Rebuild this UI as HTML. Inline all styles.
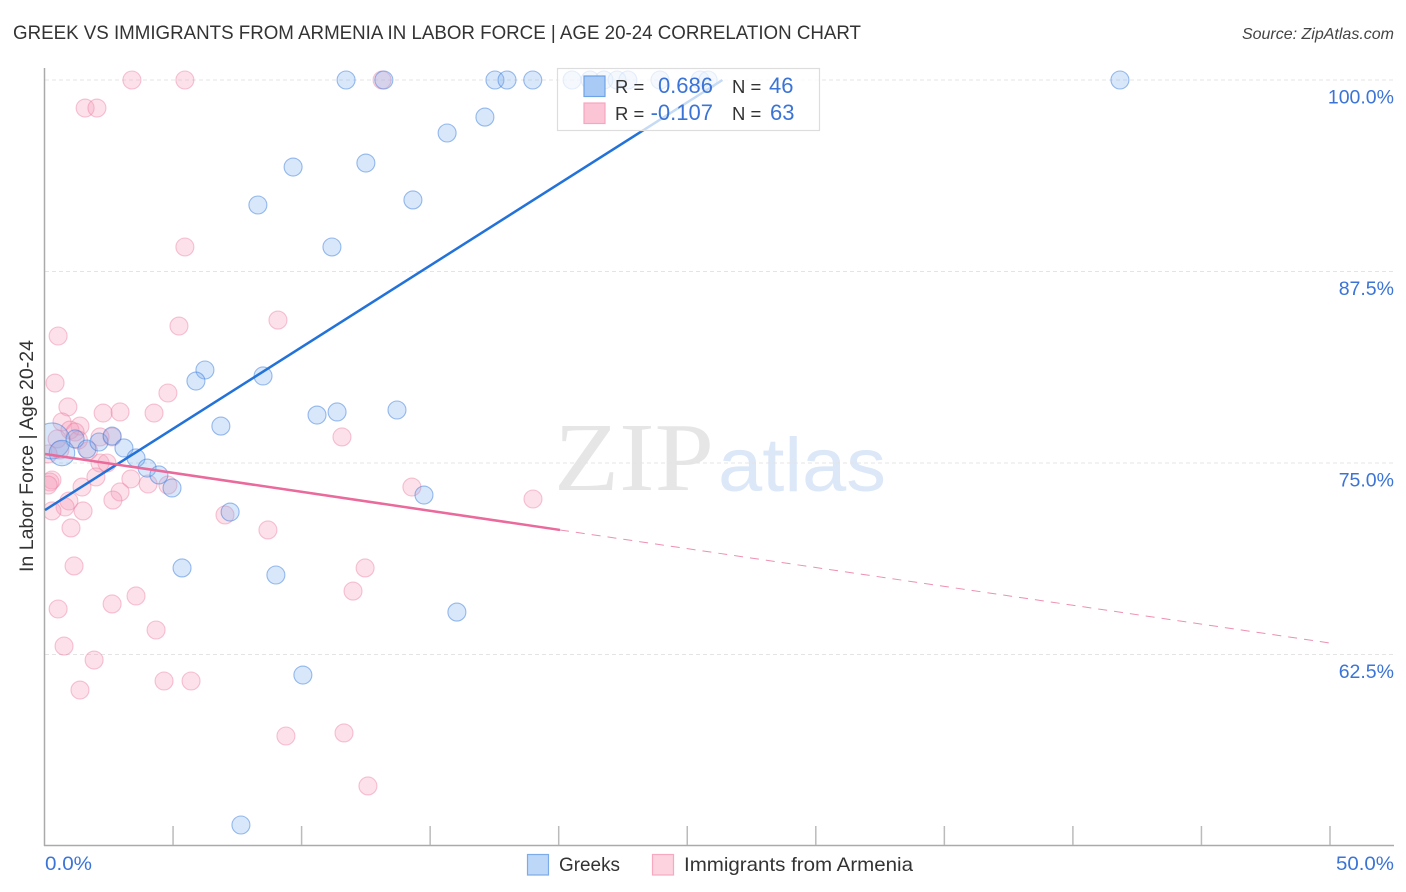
<!DOCTYPE html>
<html lang="en">
<head>
<meta charset="utf-8">
<title>Greek vs Immigrants from Armenia in Labor Force | Age 20-24 Correlation Chart</title>
<style>
html,body{margin:0;padding:0;background:#fff;}
svg{display:block;font-family:"Liberation Sans",sans-serif;}
</style>
</head>
<body>
<svg id="chart" width="1406" height="892" viewBox="0 0 1406 892" xmlns="http://www.w3.org/2000/svg">
  <defs>
    <clipPath id="plot-clip"><rect x="45" y="60" width="1349" height="785"/></clipPath>
  </defs>
  <text x="13" y="39" font-size="19.5" fill="#333" textLength="848" lengthAdjust="spacingAndGlyphs">GREEK VS IMMIGRANTS FROM ARMENIA IN LABOR FORCE | AGE 20-24 CORRELATION CHART</text>
  <text x="1394" y="39" font-size="16" font-style="italic" fill="#444" text-anchor="end">Source: ZipAtlas.com</text>

  <text x="554" y="490" font-family="'Liberation Serif',serif" font-size="98" fill="#e6e6e6" textLength="160" lengthAdjust="spacingAndGlyphs">ZIP</text>
  <text x="718" y="491" font-size="76" fill="#dce8f8" textLength="168" lengthAdjust="spacingAndGlyphs">atlas</text>

  <g id="grid"></g>
  <g id="axes"></g>
  <g id="pink-points" clip-path="url(#plot-clip)"></g>
  <g id="blue-points" clip-path="url(#plot-clip)"></g>
  <g id="trend-lines"></g>

  <text transform="translate(33,456) rotate(-90)" font-size="19" fill="#333" text-anchor="middle" textLength="232" lengthAdjust="spacingAndGlyphs">In Labor Force | Age 20-24</text>

  <g>
    <rect x="557.5" y="68.5" width="262" height="62" fill="#fff" fill-opacity="0.74" stroke="#dddddd" stroke-width="1.2"/>
    <rect x="584" y="76" width="21" height="20.5" fill="#a9caf4" stroke="#6ea3e6" stroke-width="1.2"/>
    <rect x="584" y="103" width="21" height="20.5" fill="#fbc5d6" stroke="#f6a6bf" stroke-width="1.2"/>
    <text x="615" y="93" font-size="18.5" fill="#333">R =</text>
    <text x="713" y="93" font-size="22" fill="#3b74d6" text-anchor="end">0.686</text>
    <text x="732" y="93" font-size="18.5" fill="#333">N =</text>
    <text x="769" y="93" font-size="22" fill="#3b74d6">46</text>
    <text x="615" y="120" font-size="18.5" fill="#333">R =</text>
    <text x="713" y="120" font-size="22" fill="#3b74d6" text-anchor="end">-0.107</text>
    <text x="732" y="120" font-size="18.5" fill="#333">N =</text>
    <text x="770" y="120" font-size="22" fill="#3b74d6">63</text>
  </g>

  <g>
    <rect x="527.5" y="854.5" width="21" height="20.5" fill="#bcd7f7" stroke="#7dabe8" stroke-width="1.2"/>
    <text x="559" y="871" font-size="19.5" fill="#333" textLength="61" lengthAdjust="spacingAndGlyphs">Greeks</text>
    <rect x="652.5" y="854.5" width="21" height="20.5" fill="#fcd3df" stroke="#f6a9c1" stroke-width="1.2"/>
    <text x="684" y="871" font-size="19.5" fill="#333" textLength="229" lengthAdjust="spacingAndGlyphs">Immigrants from Armenia</text>
  </g>
</svg>
<script>
const xTickValues = [5, 10, 15, 20, 25, 30, 35, 40, 45, 50];
const xEdgeLabels = ['0.0%', '50.0%'];
const yTickValues = [100, 87.5, 75, 62.5];
const yTickLabels = ['100.0%', '87.5%', '75.0%', '62.5%'];

const greekX = [11.73, 13.20, 17.52, 17.99, 18.99, 20.52, 21.22, 21.76, 22.27, 22.69, 23.94, 25.50, 25.81, 41.83,
  17.13, 15.66, 12.50, 9.67, 8.30, 14.33, 11.18, 6.24, 5.89, 8.50, 6.86, 10.60, 11.38, 13.71, 14.76, 7.22, 5.35, 9.00, 16.04, 10.05, 7.64,
  0.29, 0.68, 1.19, 1.65, 2.12, 2.63, 3.09, 3.56, 3.99, 4.45, 4.96];
const greekY = [100, 100, 100, 100, 100, 100, 100, 100, 100, 100, 100, 100, 100, 100,
  97.58, 96.54, 94.58, 94.32, 91.84, 92.17, 89.10, 81.07, 80.35, 80.68, 77.41, 78.13, 78.33, 78.46, 72.91, 71.80, 68.15, 67.69, 65.27, 61.16, 51.37,
  76.44, 75.65, 76.57, 75.91, 76.37, 76.76, 75.98, 75.33, 74.67, 74.22, 73.37];
const greekWeight = [1, 1, 1, 1, 1, 1, 1, 1, 1, 1, 1, 1, 1, 1,
  1, 1, 1, 1, 1, 1, 1, 1, 1, 1, 1, 1, 1, 1, 1, 1, 1, 1, 1, 1, 1,
  4, 2, 1, 1, 1, 1, 1, 1, 1, 1, 1];

const armeniaX = [3.40, 5.46, 13.13, 1.58, 2.04, 5.46, 5.23, 9.08, 0.53, 0.41, 4.80, 0.91, 2.28, 2.94, 4.26, 0.68, 1.38, 0.99, 1.19, 2.16, 2.63, 0.49, 0.60, 2.16, 2.43,
  2.00, 3.36, 4.03, 4.80, 1.46, 2.94, 2.66, 0.95, 0.80, 1.50, 0.29, 1.03, 0.29, 0.21, 0.14, 8.69, 7.02, 1.15, 11.57, 14.29, 19.00,
  0.53, 2.63, 3.56, 4.34, 12.00, 12.47, 0.76, 1.93, 1.38, 4.65, 5.70, 9.39, 11.65, 12.58, 0.14, 1.32, 1.71];
const armeniaY = [100, 100, 100, 98.17, 98.17, 89.10, 83.94, 84.33, 83.29, 80.22, 79.57, 78.66, 78.26, 78.33, 78.26, 77.68, 77.41, 77.15, 77.02, 76.70, 76.70, 76.57, 75.85, 75.00, 75.00,
  74.09, 73.96, 73.63, 73.56, 73.43, 73.11, 72.58, 72.52, 72.13, 71.87, 71.87, 70.76, 73.89, 73.76, 73.56, 70.63, 71.61, 68.28, 76.70, 73.43, 72.65,
  65.47, 65.80, 66.32, 64.10, 66.64, 68.15, 63.05, 62.14, 60.18, 60.77, 60.77, 57.18, 57.38, 53.92, 75.59, 76.50, 75.80];

const greekTrendX = [0.02, 26.37];
const greekTrendY = [71.93, 100];
const armeniaTrendX = [0.02, 20.05];
const armeniaTrendY = [75.59, 70.63];
const armeniaForecastX = [20.05, 50];
const armeniaForecastY = [70.63, 63.25];

const SVG_NS = 'http://www.w3.org/2000/svg';
function xScale(v) { return 44.5 + v * 25.71; }
function yScale(v) { return 80 + (100 - v) * 15.32; }
function radius(w) { return 9 * Math.sqrt(w); }
function make(tag, parent, props) {
  const el = document.createElementNS(SVG_NS, tag);
  Object.keys(props).forEach(function (k) { el.setAttribute(k, props[k]); });
  parent.appendChild(el);
  return el;
}

const gridGroup = document.getElementById('grid');
const axesGroup = document.getElementById('axes');
const pinkGroup = document.getElementById('pink-points');
const blueGroup = document.getElementById('blue-points');
const trendGroup = document.getElementById('trend-lines');

yTickValues.forEach(function (v, i) {
  const py = yScale(v);
  const line = make('line', gridGroup, { x1: 45, x2: 1394, y1: py, y2: py, stroke: '#e4e4e4', 'stroke-width': 1, 'stroke-dasharray': '4 3' });
  
  
  const label = make('text', axesGroup, { x: 1394, y: py + 23.5, 'font-size': 19.5, fill: '#3b74d6', 'text-anchor': 'end' });
  
  
  label.textContent = yTickLabels[i];
});

const yAxisLine = make('line', axesGroup, { x1: 44.5, x2: 44.5, y1: 68, y2: 846, stroke: '#aaaaaa', 'stroke-width': 1.5 });


const xAxisLine = make('line', axesGroup, { x1: 44, x2: 1394, y1: 845.5, y2: 845.5, stroke: '#aaaaaa', 'stroke-width': 1.5 });



xTickValues.forEach(function (v) {
  const px = xScale(v);
  const tick = make('line', axesGroup, { x1: px, x2: px, y1: 826, y2: 845, stroke: '#bbbbbb', 'stroke-width': 1.5 });
  
  
});

const xLabelStart = make('text', axesGroup, { x: 45, y: 870, 'font-size': 19.5, fill: '#3b74d6', textLength: 47, lengthAdjust: 'spacingAndGlyphs' });


xLabelStart.textContent = xEdgeLabels[0];
const xLabelEnd = make('text', axesGroup, { x: 1336, y: 870, 'font-size': 19.5, fill: '#3b74d6', textLength: 58, lengthAdjust: 'spacingAndGlyphs' });


xLabelEnd.textContent = xEdgeLabels[1];

armeniaX.forEach(function (v, i) {
  const dot = make('circle', pinkGroup, { cx: xScale(v), cy: yScale(armeniaY[i]), r: radius(1), fill: 'rgb(246,155,185)', 'fill-opacity': 0.3, stroke: 'rgb(236,120,155)', 'stroke-opacity': 0.42, 'stroke-width': 1.1 });
  
  
});

greekX.forEach(function (v, i) {
  const dot = make('circle', blueGroup, { cx: xScale(v), cy: yScale(greekY[i]), r: radius(greekWeight[i]), fill: 'rgb(125,175,238)', 'fill-opacity': 0.3, stroke: 'rgb(50,120,220)', 'stroke-opacity': 0.48, 'stroke-width': 1.1 });
  
  
});

const greekTrend = make('line', trendGroup, { x1: xScale(greekTrendX[0]), y1: yScale(greekTrendY[0]), x2: xScale(greekTrendX[1]), y2: yScale(greekTrendY[1]), stroke: '#2272d9', 'stroke-width': 2.5 });


const armeniaTrend = make('line', trendGroup, { x1: xScale(armeniaTrendX[0]), y1: yScale(armeniaTrendY[0]), x2: xScale(armeniaTrendX[1]), y2: yScale(armeniaTrendY[1]), stroke: '#e96a9b', 'stroke-width': 2.5 });


const armeniaForecast = make('line', trendGroup, { x1: xScale(armeniaForecastX[0]), y1: yScale(armeniaForecastY[0]), x2: xScale(armeniaForecastX[1]), y2: yScale(armeniaForecastY[1]), stroke: '#ee8fb3', 'stroke-width': 1, 'stroke-dasharray': '9 7' });


</script>
</body>
</html>
